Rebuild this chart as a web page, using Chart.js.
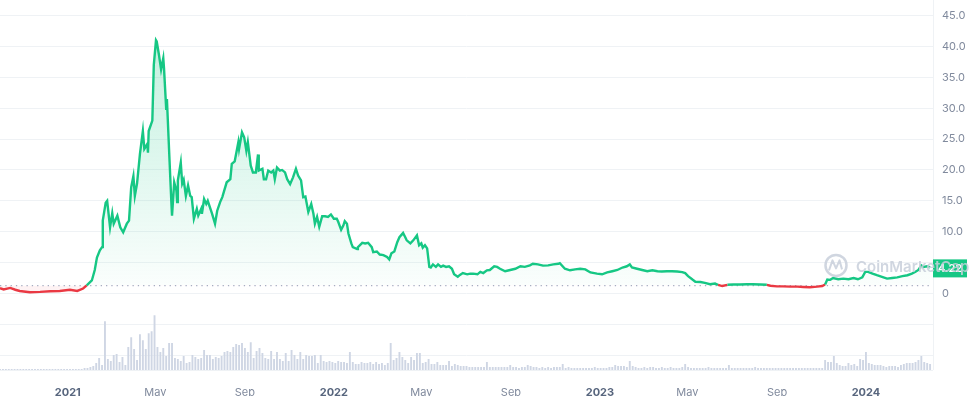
<!DOCTYPE html>
<html>
<head>
<meta charset="utf-8">
<title>Price chart</title>
<script src="https://cdn.jsdelivr.net/npm/chart.js@4.4.1/dist/chart.umd.min.js"></script>
<style>
  html, body { margin: 0; padding: 0; background: #fff; }
  #wrap { position: relative; width: 975px; height: 396px; }
</style>
</head>
<body>
<div id="wrap"><canvas id="priceChart"></canvas></div>
<script>
// --- Dữ liệu (ngày tính từ 2020-09-30) ---
const tickDays = [93, 213, 336, 458, 578, 701, 823, 943, 1066, 1188];
const tickLabels = ["2021", "May", "Sep", "2022", "May", "Sep", "2023", "May", "Sep", "2024"];
const priceTicks = [0, 5, 10, 15, 20, 25, 30, 35, 40, 45];

const priceDays = [
  0, 5, 14, 21, 27, 41, 55, 69, 82, 96,
  106, 114, 119, 126, 130, 133, 137, 140, 141, 145,
  147, 151, 154, 156, 161, 165, 169, 174, 177, 180,
  183, 185, 188, 192, 196, 198, 202, 203, 204, 209,
  211, 214, 215, 218, 221, 224, 225, 228, 229, 232,
  235, 236, 239, 242, 243, 244, 248, 250, 252, 255,
  258, 261, 263, 266, 270, 272, 276, 277, 280, 283,
  285, 291, 295, 298, 302, 305, 307, 311, 316, 318,
  322, 327, 328, 332, 335, 338, 340, 344, 347, 351,
  354, 355, 360, 362, 365, 368, 372, 375, 377, 380,
  384, 387, 391, 394, 398, 402, 406, 409, 413, 416,
  419, 423, 427, 430, 432, 435, 438, 442, 446, 450,
  454, 458, 462, 464, 468, 471, 473, 476, 478, 482,
  484, 490, 491, 497, 501, 505, 510, 512, 517, 521,
  526, 531, 534, 537, 541, 545, 548, 553, 556, 558,
  563, 567, 572, 575, 578, 580, 583, 586, 589, 591,
  594, 598, 601, 605, 608, 612, 616, 620, 623, 628,
  631, 635, 641, 645, 649, 655, 659, 663, 668, 672,
  678, 682, 686, 693, 700, 707, 714, 720, 727, 731,
  738, 745, 752, 759, 766, 768, 775, 782, 789, 796,
  803, 810, 819, 826, 833, 840, 847, 854, 860, 864,
  867, 874, 881, 888, 895, 902, 908, 915, 922, 929,
  936, 940, 944, 950, 954, 961, 967, 974, 981, 985,
  991, 998, 1006, 1015, 1025, 1033, 1043, 1052, 1057, 1066,
  1074, 1084, 1094, 1102, 1111, 1121, 1128, 1132, 1135, 1139,
  1143, 1150, 1157, 1164, 1171, 1177, 1183, 1187, 1191, 1197,
  1203, 1210, 1217, 1224, 1231, 1238, 1245, 1251, 1256, 1260,
  1264, 1267, 1272, 1276
];
const prices = [
  0.85, 0.65, 0.9, 0.6, 0.4, 0.2, 0.25, 0.35, 0.4, 0.6,
  0.4, 0.8, 1.3, 2.1, 3.8, 5.8, 7.0, 7.5, 11.8, 14.7,
  15.0, 10.7, 13.0, 11.3, 12.6, 10.7, 9.9, 11.3, 11.8, 17.2,
  19.0, 15.8, 17.8, 22.6, 26.3, 23.4, 24.2, 22.8, 26.3, 28.0,
  37.0, 41.0, 40.8, 38.7, 36.3, 38.1, 36.5, 29.9, 31.5, 23.1,
  15.0, 12.6, 18.0, 16.7, 14.8, 18.3, 21.2, 17.8, 18.4, 15.8,
  17.5, 15.8, 15.6, 12.1, 13.7, 12.6, 13.7, 12.9, 15.3, 14.5,
  15.0, 12.9, 11.3, 13.4, 14.8, 15.6, 16.4, 18.0, 18.5, 21.0,
  21.4, 24.5, 23.4, 26.1, 25.3, 23.1, 24.5, 20.7, 19.6, 19.6,
  22.5, 19.9, 20.2, 18.5, 18.5, 19.9, 19.6, 19.9, 18.5, 20.4,
  19.9, 20.0, 19.6, 18.5, 17.7, 18.8, 20.2, 19.1, 18.3, 15.6,
  15.7, 13.2, 14.5, 12.9, 11.3, 12.4, 10.8, 12.5, 12.5, 12.4,
  12.8, 12.1, 12.1, 11.6, 10.3, 11.0, 11.7, 11.3, 9.7, 8.1,
  7.5, 7.2, 7.5, 8.2, 8.1, 8.2, 7.5, 6.7, 6.8, 6.3,
  6.2, 5.9, 5.5, 6.5, 6.8, 8.3, 9.1, 9.8, 9.1, 8.6,
  8.1, 8.6, 9.4, 7.8, 8.1, 7.4, 7.8, 7.3, 4.3, 4.2,
  4.7, 4.3, 4.7, 4.3, 4.5, 4.3, 4.4, 4.0, 3.1, 2.7,
  3.0, 3.3, 3.1, 3.2, 3.2, 3.1, 3.5, 3.3, 3.75, 3.8,
  4.4, 4.3, 4.0, 3.6, 3.8, 4.0, 4.4, 4.3, 4.55, 4.8,
  4.7, 4.5, 4.55, 4.7, 4.8, 4.9, 4.0, 3.75, 3.9, 4.0,
  3.9, 3.4, 3.2, 3.1, 3.4, 3.6, 3.8, 4.2, 4.4, 4.7,
  4.2, 4.0, 3.8, 3.6, 3.75, 3.6, 3.55, 3.6, 3.6, 3.55,
  3.45, 3.3, 2.8, 2.25, 1.9, 1.85, 1.7, 1.5, 1.6, 1.4,
  1.2, 1.4, 1.45, 1.45, 1.5, 1.5, 1.45, 1.4, 1.25, 1.15,
  1.15, 1.1, 1.1, 1.05, 1.0, 1.1, 1.2, 1.45, 2.25, 2.2,
  2.5, 2.3, 2.4, 2.3, 2.5, 2.3, 2.6, 3.5, 3.5, 3.2,
  2.95, 2.7, 2.4, 2.5, 2.6, 2.8, 2.95, 3.2, 3.5, 3.8,
  4.55, 4.3, 4.4, 4.22
];
const openPrice = 1.28;

// Khối lượng: mỗi cột cách nhau 4 ngày
const volumeStepDays = 4;
const volumes = [
  1, 1, 1, 1, 1, 1, 1, 1, 1, 1, 1, 1, 1, 1, 1, 1, 1, 1, 1, 1,
  1, 1, 1, 1, 1, 1, 1, 1, 1, 2, 2, 3, 4, 7, 12, 5, 49, 11, 9, 15,
  16, 8, 13, 5, 23, 33, 21, 10, 36, 30, 21, 37, 39, 55, 23, 18, 22, 14, 27, 27,
  12, 11, 9, 14, 7, 8, 15, 13, 11, 12, 20, 15, 15, 11, 13, 12, 14, 18, 19, 18,
  23, 26, 25, 27, 22, 18, 28, 12, 19, 22, 17, 12, 11, 19, 11, 18, 11, 9, 17, 9,
  20, 15, 11, 18, 11, 15, 14, 14, 15, 7, 15, 9, 8, 9, 8, 7, 9, 8, 8, 7,
  18, 8, 6, 6, 8, 7, 7, 8, 6, 8, 6, 7, 5, 7, 27, 10, 12, 18, 13, 10,
  7, 13, 10, 17, 17, 7, 8, 11, 6, 6, 8, 5, 5, 5, 9, 4, 6, 5, 4, 4,
  4, 3, 3, 3, 3, 3, 3, 8, 3, 3, 3, 3, 3, 3, 3, 5, 3, 3, 2, 3,
  3, 5, 4, 3, 3, 2, 3, 2, 3, 2, 3, 3, 3, 6, 2, 3, 2, 2, 2, 2,
  2, 2, 2, 2, 3, 2, 2, 2, 2, 3, 3, 5, 4, 4, 4, 3, 9, 4, 3, 2,
  2, 3, 2, 3, 3, 2, 2, 3, 2, 2, 3, 2, 2, 2, 3, 6, 3, 2, 2, 2,
  2, 2, 2, 3, 2, 2, 2, 2, 2, 2, 5, 2, 2, 2, 2, 2, 2, 2, 2, 3,
  2, 2, 2, 2, 2, 2, 2, 2, 2, 2, 2, 2, 2, 2, 2, 2, 2, 2, 2, 2,
  2, 2, 2, 10, 8, 8, 14, 7, 5, 4, 4, 7, 5, 6, 4, 11, 10, 18, 7, 6,
  5, 5, 5, 4, 3, 4, 4, 4, 3, 5, 6, 7, 7, 7, 8, 10, 14, 8, 7, 6
];

// --- Màu ---
const GREEN = "#16c784";
const RED = "#ea3943";
const GRID = "#eff2f5";
const LABEL = "#808a9d";
const LABEL_DARK = "#58667e";
const FONT = "Inter";

const lastPrice = prices[prices.length - 1];

// --- Nhãn giá + watermark ---
const overlayPlugin = {
  id: "overlay",
  afterDraw(chart) {
    const { ctx, chartArea: a, scales } = chart;
    const py = scales.y.getPixelForValue(lastPrice);
    ctx.save();

    ctx.strokeStyle = GRID;
    ctx.lineWidth = 1;
    ctx.beginPath();
    ctx.moveTo(a.right + 0.5, 0);
    ctx.lineTo(a.right + 0.5, a.bottom);
    ctx.stroke();

    ctx.fillStyle = GREEN;
    ctx.fillRect(a.right, py - 8, 34, 18);
    ctx.fillStyle = "#fff";
    ctx.font = "600 11px " + FONT;
    ctx.textAlign = "center";
    ctx.textBaseline = "middle";
    ctx.fillText(lastPrice.toFixed(2), a.right + 17, py + 1.5);

    // watermark CoinMarketCap
    const wm = "rgba(200,207,219,0.85)";
    const cx = a.right - 97, cy = py - 2;
    ctx.strokeStyle = wm;
    ctx.lineWidth = 2.5;
    ctx.beginPath();
    ctx.arc(cx, cy, 10.5, 0, Math.PI * 2);
    ctx.stroke();
    ctx.lineWidth = 2;
    ctx.lineJoin = "round";
    ctx.beginPath();
    ctx.moveTo(cx - 7, cy + 5);
    ctx.lineTo(cx - 3.5, cy - 5);
    ctx.lineTo(cx, cy + 3);
    ctx.lineTo(cx + 3.5, cy - 5);
    ctx.lineTo(cx + 6, cy + 4);
    ctx.stroke();
    ctx.fillStyle = wm;
    ctx.font = "600 15px " + FONT;
    ctx.textAlign = "left";
    ctx.textBaseline = "alphabetic";
    ctx.fillText("CoinMarketCap", cx + 20, cy + 7);

    ctx.restore();
  }
};

// --- Biểu đồ ---
const ctx = document.getElementById("priceChart").getContext("2d");
new Chart(ctx, {
  type: "line",
  data: {
    datasets: [
      {
        label: "Price",
        data: priceDays.map((d, i) => ({ x: d, y: prices[i] })),
        yAxisID: "y",
        order: 0,
        borderWidth: 2.4,
        borderColor: GREEN,
        pointRadius: 0,
        tension: 0,
        segment: {
          borderColor: c => (c.p0.parsed.y < openPrice || c.p1.parsed.y < openPrice) ? RED : GREEN
        },
        backgroundColor: c => {
          const chart = c.chart;
          const a = chart.chartArea;
          if (!a || !chart.scales.y) return "rgba(22,199,132,0.1)";
          const base = chart.scales.y.getPixelForValue(openPrice);
          const g = chart.ctx.createLinearGradient(0, a.top, 0, base);
          g.addColorStop(0, "rgba(22,199,132,0.28)");
          g.addColorStop(1, "rgba(22,199,132,0.02)");
          return g;
        },
        fill: { target: { value: openPrice }, below: "rgba(234,57,67,0.06)" }
      },
      {
        label: "Open",
        data: [{ x: priceDays[0], y: openPrice }, { x: priceDays[priceDays.length - 1], y: openPrice }],
        yAxisID: "y",
        order: 1,
        borderColor: "#a6b0c3",
        borderWidth: 1.3,
        borderDash: [1.3, 4],
        pointRadius: 0,
        fill: false
      },
      {
        type: "bar",
        label: "Volume",
        data: volumes.map((v, i) => ({ x: i * volumeStepDays, y: v })),
        yAxisID: "yv",
        order: 2,
        backgroundColor: "#cfd6e4",
        barPercentage: 0.65,
        categoryPercentage: 1
      }
    ]
  },
  options: {
    responsive: true,
    maintainAspectRatio: false,
    animation: false,
    layout: { padding: { top: 14, left: 0, right: 0, bottom: 0 } },
    plugins: { legend: { display: false }, tooltip: { enabled: false } },
    scales: {
      x: {
        type: "linear",
        offset: false,
        min: 0,
        max: 1280,
        afterBuildTicks: s => { s.ticks = tickDays.map(v => ({ value: v })); },
        afterFit: s => { s.height = 26; },
        grid: { display: false, offset: false },
        border: { display: false },
        ticks: {
          autoSkip: false,
          maxRotation: 0,
          padding: 8,
          callback: (v, i) => tickLabels[i],
          font: c => ({ family: FONT, size: 11, weight: /^\d{4}$/.test(tickLabels[c.index]) ? "700" : "400" }),
          color: c => /^\d{4}$/.test(tickLabels[c.index]) ? LABEL_DARK : LABEL
        }
      },
      y: {
        position: "right",
        min: -12.4,
        max: 45,
        afterBuildTicks: s => { s.ticks = [-12.4, -10, -5].concat(priceTicks).map(v => ({ value: v })); },
        afterFit: s => { s.width = 42; },
        grid: { color: GRID, drawTicks: false },
        border: { display: false },
        ticks: {
          padding: 9,
          color: LABEL,
          font: { family: FONT, size: 11 },
          callback: v => {
            if (v < 0 || Math.abs(v - lastPrice) < 1.5) return "";
            return v === 0 ? "0" : v.toFixed(1);
          }
        }
      },
      yv: { display: false, min: 0, max: 356 }
    }
  },
  plugins: [overlayPlugin]
});
</script>
</body>
</html>
